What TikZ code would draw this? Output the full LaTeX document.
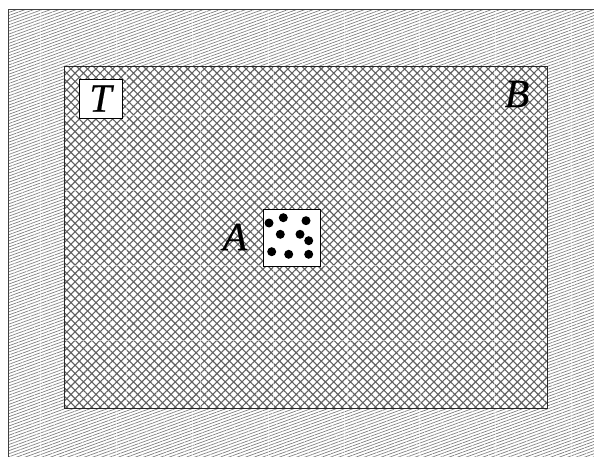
\documentclass[tikz,border=0pt]{standalone}
\usepackage{fontspec}
\setmainfont{Liberation Serif}
\newfontfamily\lblfont{Liberation Serif}[FakeBold=0.5,ItalicFeatures={FakeBold=0.5}]
\usetikzlibrary{patterns.meta}
\tikzset{
  outerfill/.style={pattern={Lines[angle=20,distance=2.9pt,line width=0.7pt]},pattern color=black!50},
  innerfill/.style={pattern={Hatch[angle=45,distance=5.9pt,line width=1.1pt]},pattern color=black!62},
  seam/.style={white,line width=0.7pt,opacity=0.5},
  lbl/.style={inner sep=0pt,font=\lblfont\fontsize{40}{42}\selectfont\itshape},
  whitebox/.style={draw=black,fill=white,line width=0.9pt,inner sep=0pt,minimum width=#1},
  dot/.style={circle,fill=black,inner sep=0pt,minimum size=9pt}
}
\begin{document}
\begin{tikzpicture}[x=1pt,y=-1pt]
\useasboundingbox (0,0) rectangle (594,457);
% outer hatched region
\fill[white] (0,0) rectangle (594,457);
\path[outerfill] (8,10) rectangle (594,457);
\foreach \x in {40,116,192,268,344,419,495,571} \draw[seam] (\x,10) -- (\x,457);
\draw[black!75,line width=1pt] (8,457) -- (8,10) -- (594,10);
% inner crosshatched region
\fill[white] (64,67) rectangle (547,408);
\path[innerfill] (64,67) rectangle (547,408);
\foreach \x in {126.5,200,273.5,347,420.5,494} \draw[seam] (\x,67) -- (\x,408);
\foreach \y in {115,190,265,340} \draw[seam] (64,\y) -- (547,\y);
\draw[black!85,line width=1pt] (64,67) rectangle (547,408);
% T box
\node[whitebox=43pt,minimum height=39pt,lbl] (T) at (100.5,98.5) {T};
% B label
\node[lbl] (B) at (517,94) {B};
% A box with dots
\node[whitebox=57pt,minimum height=57pt] (Abox) at (291.5,237.5) {};
\node[lbl] (A) at (235,237) {A};
\node[dot] (d1) at (269,223) {};
\node[dot] (d2) at (283.3,217.7) {};
\node[dot] (d3) at (306,220.7) {};
\node[dot] (d4) at (280.3,234.3) {};
\node[dot] (d5) at (300,234.3) {};
\node[dot] (d6) at (308.7,240.7) {};
\node[dot] (d7) at (271.7,251.7) {};
\node[dot] (d8) at (288.7,254.3) {};
\node[dot] (d9) at (308.7,254.3) {};
\end{tikzpicture}
\end{document}
